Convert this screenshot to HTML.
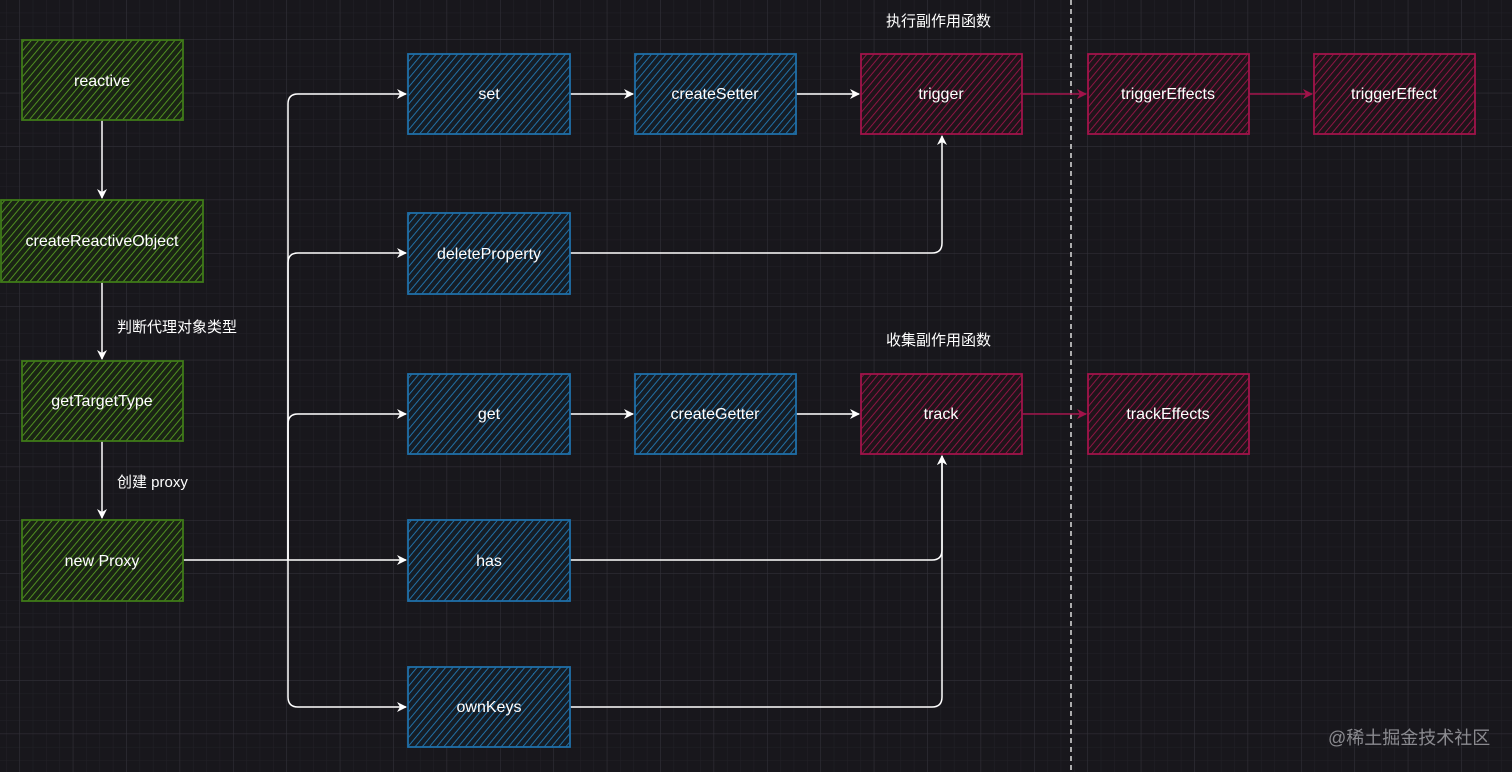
<!DOCTYPE html>
<html><head><meta charset="utf-8"><style>
html,body{margin:0;padding:0;background:#18171c;}
svg{display:block}
text{font-family:"Liberation Sans","Noto Sans CJK SC",sans-serif;fill:#fff;}
</style></head><body>
<svg width="1512" height="772" viewBox="0 0 1512 772" xmlns="http://www.w3.org/2000/svg">
<defs>
<pattern id="gmin" x="19.4" y="39.4" width="13.35" height="13.35" patternUnits="userSpaceOnUse">
<path d="M0 0H13.35M0 0V13.35" stroke="#222127" stroke-width="1" fill="none"/>
</pattern>
<pattern id="gmaj" x="19.4" y="39.4" width="53.4" height="53.4" patternUnits="userSpaceOnUse">
<path d="M0 0H53.4M0 0V53.4" stroke="#33323a" stroke-width="1" fill="none"/>
</pattern>
<pattern id="hg" width="5.5" height="5.5" patternUnits="userSpaceOnUse" patternTransform="rotate(40)">
<rect width="5.5" height="5.5" fill="#1a2414"/><line x1="0" y1="0" x2="0" y2="5.5" stroke="#559a22" stroke-width="1.8"/>
</pattern>
<pattern id="hb" width="5.5" height="5.5" patternUnits="userSpaceOnUse" patternTransform="rotate(40)">
<rect width="5.5" height="5.5" fill="#151d26"/><line x1="0" y1="0" x2="0" y2="5.5" stroke="#2379b3" stroke-width="1.8"/>
</pattern>
<pattern id="hr" width="5.5" height="5.5" patternUnits="userSpaceOnUse" patternTransform="rotate(40)">
<rect width="5.5" height="5.5" fill="#1f141a"/><line x1="0" y1="0" x2="0" y2="5.5" stroke="#991548" stroke-width="1.8"/>
</pattern>
<marker id="aw" markerWidth="10" markerHeight="10" refX="9" refY="5" orient="auto" markerUnits="userSpaceOnUse"><path d="M0 0L10 5L0 10L3 5Z" fill="#fff"/></marker>
<marker id="ar" markerWidth="10" markerHeight="10" refX="9" refY="5" orient="auto" markerUnits="userSpaceOnUse"><path d="M0 0L10 5L0 10L3 5Z" fill="#a1134a"/></marker>
</defs>
<rect width="1512" height="772" fill="url(#gmin)"/>
<rect width="1512" height="772" fill="url(#gmaj)"/>
<line x1="1071" y1="0" x2="1071" y2="772" stroke="#ddd" stroke-width="1.5" stroke-dasharray="5,4"/>

<g stroke="#fff" stroke-width="1.5" fill="none">
<path d="M102 120V198" marker-end="url(#aw)"/>
<path d="M102 282V359" marker-end="url(#aw)"/>
<path d="M102 441V518" marker-end="url(#aw)"/>
<path d="M183 560H406" marker-end="url(#aw)"/>
<path d="M288 560V104Q288 94 298 94H406" marker-end="url(#aw)"/>
<path d="M288 560V263Q288 253 298 253H406" marker-end="url(#aw)"/>
<path d="M288 560V424Q288 414 298 414H406" marker-end="url(#aw)"/>
<path d="M288 560V697Q288 707 298 707H406" marker-end="url(#aw)"/>
<path d="M570 94H633" marker-end="url(#aw)"/>
<path d="M796 94H859" marker-end="url(#aw)"/>
<path d="M570 414H633" marker-end="url(#aw)"/>
<path d="M796 414H859" marker-end="url(#aw)"/>
<path d="M570 253H932Q942 253 942 243V136" marker-end="url(#aw)"/>
<path d="M570 560H932Q942 560 942 550V456" marker-end="url(#aw)"/>
<path d="M570 707H932Q942 707 942 697V456" marker-end="url(#aw)"/>
</g>
<g stroke="#a1134a" stroke-width="1.5" fill="none">
<path d="M1022 94H1086" marker-end="url(#ar)"/>
<path d="M1249 94H1312" marker-end="url(#ar)"/>
<path d="M1022 414H1086" marker-end="url(#ar)"/>
</g>

<g stroke-width="1.8">
<rect x="22" y="40" width="161" height="80" fill="url(#hg)" stroke="#3f7a18"/>
<rect x="1" y="200" width="202" height="82" fill="url(#hg)" stroke="#3f7a18"/>
<rect x="22" y="361" width="161" height="80" fill="url(#hg)" stroke="#3f7a18"/>
<rect x="22" y="520" width="161" height="81" fill="url(#hg)" stroke="#3f7a18"/>
<rect x="408" y="54" width="162" height="80" fill="url(#hb)" stroke="#1f6fa8"/>
<rect x="408" y="213" width="162" height="81" fill="url(#hb)" stroke="#1f6fa8"/>
<rect x="408" y="374" width="162" height="80" fill="url(#hb)" stroke="#1f6fa8"/>
<rect x="408" y="520" width="162" height="81" fill="url(#hb)" stroke="#1f6fa8"/>
<rect x="408" y="667" width="162" height="80" fill="url(#hb)" stroke="#1f6fa8"/>
<rect x="635" y="54" width="161" height="80" fill="url(#hb)" stroke="#1f6fa8"/>
<rect x="635" y="374" width="161" height="80" fill="url(#hb)" stroke="#1f6fa8"/>
<rect x="861" y="54" width="161" height="80" fill="url(#hr)" stroke="#a1134a"/>
<rect x="861" y="374" width="161" height="80" fill="url(#hr)" stroke="#a1134a"/>
<rect x="1088" y="54" width="161" height="80" fill="url(#hr)" stroke="#a1134a"/>
<rect x="1314" y="54" width="161" height="80" fill="url(#hr)" stroke="#a1134a"/>
<rect x="1088" y="374" width="161" height="80" fill="url(#hr)" stroke="#a1134a"/>
</g>

<g font-size="16" text-anchor="middle">
<text x="102" y="86">reactive</text>
<text x="102" y="246">createReactiveObject</text>
<text x="102" y="406">getTargetType</text>
<text x="102" y="566">new Proxy</text>
<text x="489" y="99">set</text>
<text x="489" y="259">deleteProperty</text>
<text x="489" y="419">get</text>
<text x="489" y="566">has</text>
<text x="489" y="712">ownKeys</text>
<text x="715" y="99">createSetter</text>
<text x="715" y="419">createGetter</text>
<text x="941" y="99">trigger</text>
<text x="941" y="419">track</text>
<text x="1168" y="99">triggerEffects</text>
<text x="1394" y="99">triggerEffect</text>
<text x="1168" y="419">trackEffects</text>
</g>
<g font-size="15">
<text x="117" y="332">判断代理对象类型</text>
<text x="117" y="487">创建 proxy</text>
<text x="886" y="26">执行副作用函数</text>
<text x="886" y="345">收集副作用函数</text>
<text x="1328" y="744" font-size="18" style="fill:#8a8a8f">@稀土掘金技术社区</text>
</g>
</svg>
</body></html>
